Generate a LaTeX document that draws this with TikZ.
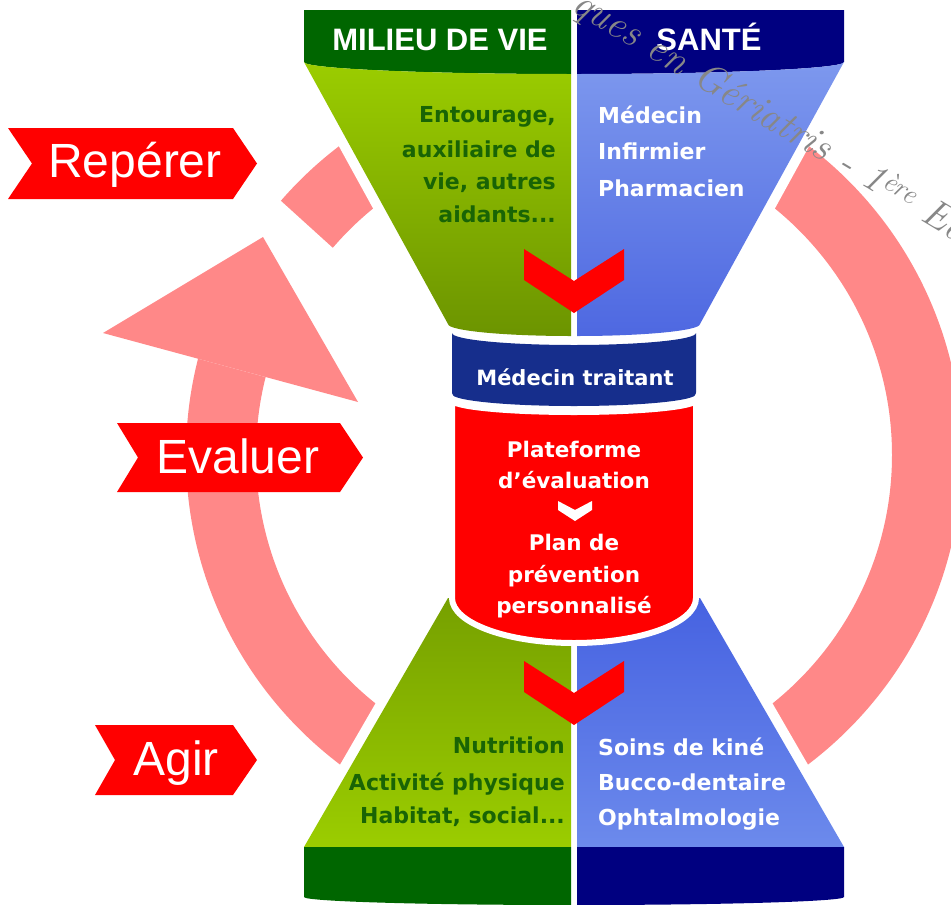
\documentclass[tikz,border=0pt]{standalone}
\usepackage{fontspec}
\newfontfamily\libsans{Liberation Sans}
\newfontfamily\dvfont{DejaVu Sans}
\definecolor{hgreen}{RGB}{0,102,0}
\definecolor{hblue}{RGB}{0,0,128}
\definecolor{fgtop}{RGB}{155,205,0}
\definecolor{fgbot}{RGB}{108,148,0}
\definecolor{fbtop}{RGB}{125,152,238}
\definecolor{fbbot}{RGB}{78,104,225}
\definecolor{pgtop}{RGB}{118,160,0}
\definecolor{pgbot}{RGB}{155,205,0}
\definecolor{pbtop}{RGB}{70,98,225}
\definecolor{pbbot}{RGB}{108,138,236}
\definecolor{navyband}{RGB}{22,46,140}
\definecolor{redzero}{RGB}{255,0,0}
\definecolor{ringpink}{RGB}{255,136,136}
\definecolor{txtgreen}{RGB}{25,100,5}
\definecolor{wmgray}{RGB}{135,135,135}
\tikzset{
  gtxt/.style={inner sep=0pt, anchor=base east, text=txtgreen, font=\dvfont\bfseries\fontsize{22}{26}\selectfont},
  btxt/.style={inner sep=0pt, anchor=base west, text=white, font=\dvfont\bfseries\fontsize{22}{26}\selectfont},
  rtxt/.style={inner sep=0pt, anchor=base, text=white, font=\dvfont\bfseries\fontsize{21.5}{26}\selectfont},
  hdr/.style={inner sep=0pt, anchor=base, text=white, font=\libsans\bfseries\fontsize{31}{34}\selectfont},
  bantxt/.style={inner sep=0pt, anchor=base, text=white, font=\libsans\fontsize{48}{52}\selectfont},
  banner/.style={fill=redzero},
  ringpart/.style={fill=ringpink},
  halo/.style={fill=white, draw=white, line width=20pt, line join=round},
  wm/.style={inner sep=0pt, text=wmgray, font=\fontsize{40}{44}\selectfont\itshape},
}
\begin{document}
\begin{tikzpicture}[x=1pt,y=-1pt]
\clip (0,0) rectangle (951,905);
\fill[white] (0,0) rectangle (951,905);
% ring
\fill[ringpink, even odd rule] (574,455) circle[radius=388pt] (574,455) circle[radius=318pt];
\fill[white] (170,351) -- (290,383.6) -- (345,259) -- (260,182) -- cycle;
\fill[ringpart] (103,333) -- (263,237) -- (358,402) -- cycle;
% halos
\filldraw[halo] (304,10) -- (844,10) -- (844,62) -- (700,324) -- (574,338) -- (448,324) -- (304,62) -- cycle;
\filldraw[halo] (448,598) -- (700,598) -- (844,847) -- (844,905) -- (304,905) -- (304,847) -- cycle;
% top headers
\fill[hgreen] (304,10) -- (571,10) -- (571,74) .. controls (423.6,74) and (304,68.6) .. (304,62) -- cycle;
\fill[hblue] (577,10) -- (844,10) -- (844,62) .. controls (844,68.6) and (724.4,74) .. (577,74) -- cycle;
% top funnel
\shade[top color=fgtop, bottom color=fgbot] (304,62) .. controls (304,68.6) and (423.6,74) .. (571,74) -- (571,336) .. controls (503,336) and (448,330.6) .. (448,324) -- cycle;
\shade[top color=fbtop, bottom color=fbbot] (844,62) .. controls (844,68.6) and (724.4,74) .. (577,74) -- (577,336) .. controls (645,336) and (700,330.6) .. (700,324) -- cycle;
% bottom pyramid
\shade[top color=pgtop, bottom color=pgbot] (448,598) -- (571,598) -- (571,847) -- (304,847) -- cycle;
\shade[top color=pbtop, bottom color=pbbot] (700,598) -- (577,598) -- (577,847) -- (844,847) -- cycle;
\fill[hgreen] (304,847) -- (571,847) -- (571,905) .. controls (423.6,905) and (304,901.4) .. (304,897) -- cycle;
\fill[hblue] (577,847) -- (844,847) -- (844,897) .. controls (844,901.4) and (724.4,905) .. (577,905) -- cycle;
% band
\fill[navyband] (452,333) .. controls (452,339.6) and (506.7,345) .. (574,345) .. controls (641.3,345) and (696,339.6) .. (696,333) -- (696,394) .. controls (696,400.6) and (641.3,406) .. (574,406) .. controls (506.7,406) and (452,400.6) .. (452,394) -- cycle;
% red box
\filldraw[fill=redzero, draw=white, line width=6pt] (452,400) .. controls (452,406.6) and (506.7,412) .. (574,412) .. controls (641.3,412) and (696,406.6) .. (696,400) -- (696,598) .. controls (696,622.8) and (641.3,643) .. (574,643) .. controls (506.7,643) and (452,622.8) .. (452,598) -- cycle;
% chevrons
\fill[redzero] (524,249) -- (574,281) -- (624,249) -- (624,280) -- (574,313) -- (524,280) -- cycle;
\fill[redzero] (524,661) -- (574,693) -- (624,661) -- (624,692) -- (574,725) -- (524,692) -- cycle;
\fill[white] (558,501) -- (575,510) -- (592,501) -- (592,510) -- (575,521) -- (558,510) -- cycle;
% header texts
\node[hdr] (milieu) at (440,50) {MILIEU DE VIE};
\node[hdr] (sante) at (709,50) {SANTÉ};
% top texts
\node[gtxt] (g1) at (556,122) {Entourage,};
\node[gtxt] (g2) at (556,157) {auxiliaire de};
\node[gtxt] (g3) at (556,189) {vie, autres};
\node[gtxt] (g4) at (556,222) {aidants...};
\node[btxt] (b1) at (598,123) {Médecin};
\node[btxt] (b2) at (598,159) {Infirmier};
\node[btxt] (b3) at (598,196) {Pharmacien};
% band and red texts
\node[rtxt, font=\dvfont\bfseries\fontsize{21}{26}\selectfont] (mt) at (575,385) {Médecin traitant};
\node[rtxt] (r1) at (574,457) {Plateforme};
\node[rtxt] (r2) at (574,488) {d’évaluation};
\node[rtxt] (r3) at (574,550) {Plan de};
\node[rtxt] (r4) at (574,582) {prévention};
\node[rtxt] (r5) at (574,613) {personnalisé};
% bottom texts
\node[gtxt] (n1) at (565,753) {Nutrition};
\node[gtxt] (n2) at (565,790) {Activité physique};
\node[gtxt] (n3) at (565,823) {Habitat, social...};
\node[btxt] (s1) at (598,755) {Soins de kiné};
\node[btxt] (s2) at (598,790) {Bucco-dentaire};
\node[btxt] (s3) at (598,825) {Ophtalmologie};
% banners
\fill[banner] (8,128) -- (233,128) -- (257,163.5) -- (233,199) -- (8,199) -- (32,163.5) -- cycle;
\node[bantxt] (reperer) at (135,177) {Repérer};
\fill[banner] (117,423) -- (340,423) -- (363,457.5) -- (340,492) -- (117,492) -- (138,457.5) -- cycle;
\node[bantxt] (evaluer) at (238,473) {Evaluer};
\fill[banner] (95,725) -- (233,725) -- (257,760) -- (233,795) -- (95,795) -- (115,760) -- cycle;
\node[bantxt] (agir) at (176,775) {Agir};
% watermark
\node[wm, rotate=-31, anchor=base west] (wmark) at (570,10) {ques en Gériatris - 1\textsuperscript{ère} Ed};
\end{tikzpicture}
\end{document}
